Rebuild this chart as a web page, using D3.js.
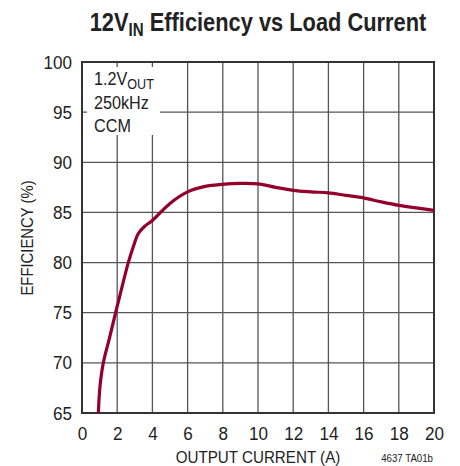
<!DOCTYPE html>
<html><head><meta charset="utf-8">
<script src="https://cdn.jsdelivr.net/npm/d3@7/dist/d3.min.js"></script>
<style>
body{margin:0;background:#fff;}
svg{display:block;font-family:"Liberation Sans Narrow","Liberation Sans",Arial,sans-serif;}
</style></head>
<body><svg id="c" width="460" height="466"></svg>
<script>
const currentA = [0.93,1.02,1.21,1.55,1.91,2.25,2.63,2.92,3.2,3.55,4,5,6,7,8,9,10,11,12,13,14,15,16,17,18,19,20];
const efficiency = [65,67.6,70,72.4,75,77.4,80,81.6,82.9,83.6,84.2,85.9,87.05,87.6,87.8,87.9,87.85,87.5,87.2,87.05,86.95,86.7,86.45,86.05,85.7,85.45,85.2];
const xTicks = [0,2,4,6,8,10,12,14,16,18,20];
const yTicks = [65,70,75,80,85,90,95,100];

const svg = d3.select("#c");
const L=82,R=434,T=62,B=413;
const x = d3.scaleLinear().domain([0,20]).range([L,R]);
const y = d3.scaleLinear().domain([65,100]).range([B,T]);

// grid
const g = svg.append("g");
g.selectAll(".vx").data(xTicks.slice(1,-1)).enter().append("line")
  .attr("x1",d=>x(d)).attr("x2",d=>x(d)).attr("y1",T).attr("y2",B)
  .attr("stroke","#555").attr("stroke-width",1.3);
g.selectAll(".hy").data(yTicks.slice(1,-1)).enter().append("line")
  .attr("y1",d=>y(d)).attr("y2",d=>y(d)).attr("x1",L).attr("x2",R)
  .attr("stroke","#555").attr("stroke-width",1.3);

// label box masking grid
svg.append("rect").attr("x",L+5).attr("y",T+5).attr("width",73).attr("height",68).attr("fill","#fff");

// frame
svg.append("rect").attr("x",L).attr("y",T).attr("width",R-L).attr("height",B-T)
  .attr("fill","none").attr("stroke","#333").attr("stroke-width",2);

// curve
const line = d3.line().x((d,i)=>x(currentA[i])).y(d=>y(d)).curve(d3.curveCatmullRom.alpha(0.5));
svg.append("path").datum(efficiency).attr("d",line).attr("fill","none")
  .attr("stroke","#93002e").attr("stroke-width",3.2).attr("stroke-linejoin","round");

// axes
const xAxis = d3.axisBottom(x).tickValues(xTicks).tickSize(0).tickPadding(14).tickFormat(d3.format("d"));
const ax = svg.append("g").attr("transform",`translate(0,${B})`).call(xAxis);
const ay = svg.append("g").attr("transform",`translate(${L},0)`)
  .call(d3.axisLeft(y).tickValues(yTicks).tickSize(0).tickPadding(10).tickFormat(d3.format("d")));
[ax,ay].forEach(a=>{a.select(".domain").remove();
  a.selectAll("text").attr("font-size",19).attr("fill","#222").attr("font-family",null)
   .attr("transform","scale(0.9,1)");});
ay.selectAll("text").attr("x",-11);

// condensed text helper
function ctext(px,py,sx,rot){
  return svg.append("g").attr("transform",`translate(${px},${py})${rot?" rotate("+rot+")":""} scale(${sx},1)`)
    .append("text").attr("fill","#222");
}

const title = ctext(258,31,0.84).attr("text-anchor","middle")
  .attr("font-size",26).attr("font-weight","bold");
title.append("tspan").text("12V");
title.append("tspan").text("IN").attr("font-size",18).attr("dy",5);
title.append("tspan").text(" Efficiency vs Load Current").attr("dy",-5);

ctext(258,463,0.92).attr("text-anchor","middle").attr("font-size",16.5).text("OUTPUT CURRENT (A)");
ctext(33,238,0.9,-90).attr("text-anchor","middle").attr("font-size",16.5).text("EFFICIENCY (%)");
ctext(433,462,0.88).attr("text-anchor","end").attr("font-size",11).text("4637 TA01b");

const lbl = [["1.2V","OUT"],["250kHz",""],["CCM",""]];
lbl.forEach((l,i)=>{
  const t = ctext(94,85+i*23.5,0.9).attr("font-size",18);
  t.append("tspan").text(l[0]);
  if(l[1]) t.append("tspan").text(l[1]).attr("font-size",14).attr("dy",4);
});
</script></body></html>
